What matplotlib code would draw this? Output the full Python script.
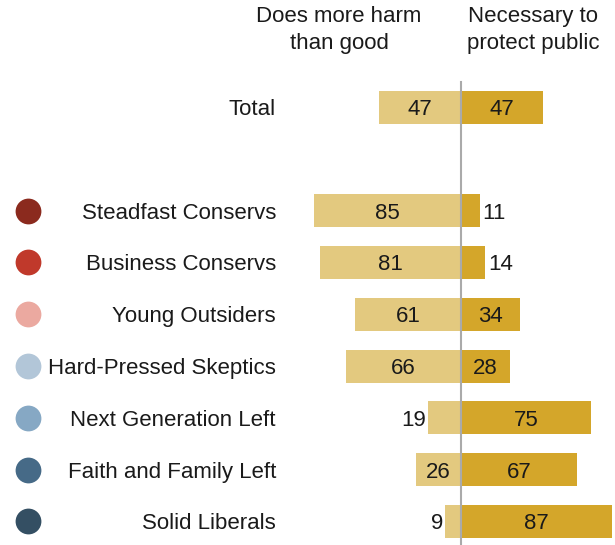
import matplotlib
matplotlib.use("Agg")
import matplotlib.pyplot as plt

# Survey results (%)
groups = ["Total", "Steadfast Conservs", "Business Conservs", "Young Outsiders",
          "Hard-Pressed Skeptics", "Next Generation Left", "Faith and Family Left",
          "Solid Liberals"]
harm = [47, 85, 81, 61, 66, 19, 26, 9]
necessary = [47, 11, 14, 34, 28, 75, 67, 87]
dot_colors = [None, "#8B2A1E", "#C0392B", "#EBA9A0", "#B2C6D8",
              "#86A8C4", "#466A87", "#344F63"]
header_left = "Does more harm\nthan good"
header_right = "Necessary to\nprotect public"

LEFT_COLOR = "#E3C97F"
RIGHT_COLOR = "#D4A62A"
TEXT = "#1a1a1a"
plt.rcParams["font.family"] = ["Liberation Sans", "DejaVu Sans"]

W, H = 615, 545
fig = plt.figure(figsize=(W / 100, H / 100), dpi=100)
ax = fig.add_axes([0, 0, 1, 1])

px_per_unit = 1.735
x0_px = 461
row_px = 51.8
row0_px = 107
ax.set_xlim(-x0_px / px_per_unit, (W - x0_px) / px_per_unit)
ax.set_ylim((H - row0_px) / row_px, -row0_px / row_px)
ax.axis("off")

# row positions: gap of one row after Total
ypos = [0] + [i + 1 for i in range(1, len(groups))]
bh = 33 / row_px
fs = 16
inside_min = 20
va = "center_baseline"

for y, g, l, r, c in zip(ypos, groups, harm, necessary, dot_colors):
    ax.barh(y, -l, height=bh, color=LEFT_COLOR, linewidth=0)
    ax.barh(y, r, height=bh, color=RIGHT_COLOR, linewidth=0)
    if l >= inside_min:
        ax.text(-l / 2, y, str(l), ha="center", va=va, fontsize=fs, color=TEXT)
    else:
        ax.text(-l - 1.2, y, str(l), ha="right", va=va, fontsize=fs, color=TEXT)
    if r >= inside_min:
        ax.text(r / 2, y, str(r), ha="center", va=va, fontsize=fs, color=TEXT)
    else:
        ax.text(r + 1.5, y, str(r), ha="left", va=va, fontsize=fs, color=TEXT)
    ax.text((276 - x0_px) / px_per_unit, y, g, ha="right", va=va,
            fontsize=fs, color=TEXT)
    if c is not None:
        ax.scatter([(28 - x0_px) / px_per_unit], [y], s=345, color=c, linewidths=0)

# zero line
ax.plot([0, 0], [(82 - row0_px) / row_px, (H - row0_px) / row_px],
        color="#AAAAAA", linewidth=1.5, zorder=3)

# column headers
hy = (6 - row0_px) / row_px
ax.text((339 - x0_px) / px_per_unit, hy, header_left, ha="center", va="top",
        fontsize=fs, color=TEXT, linespacing=1.35)
ax.text((533 - x0_px) / px_per_unit, hy, header_right, ha="center", va="top",
        fontsize=fs, color=TEXT, linespacing=1.35)

fig.savefig("out.png", dpi=100)
